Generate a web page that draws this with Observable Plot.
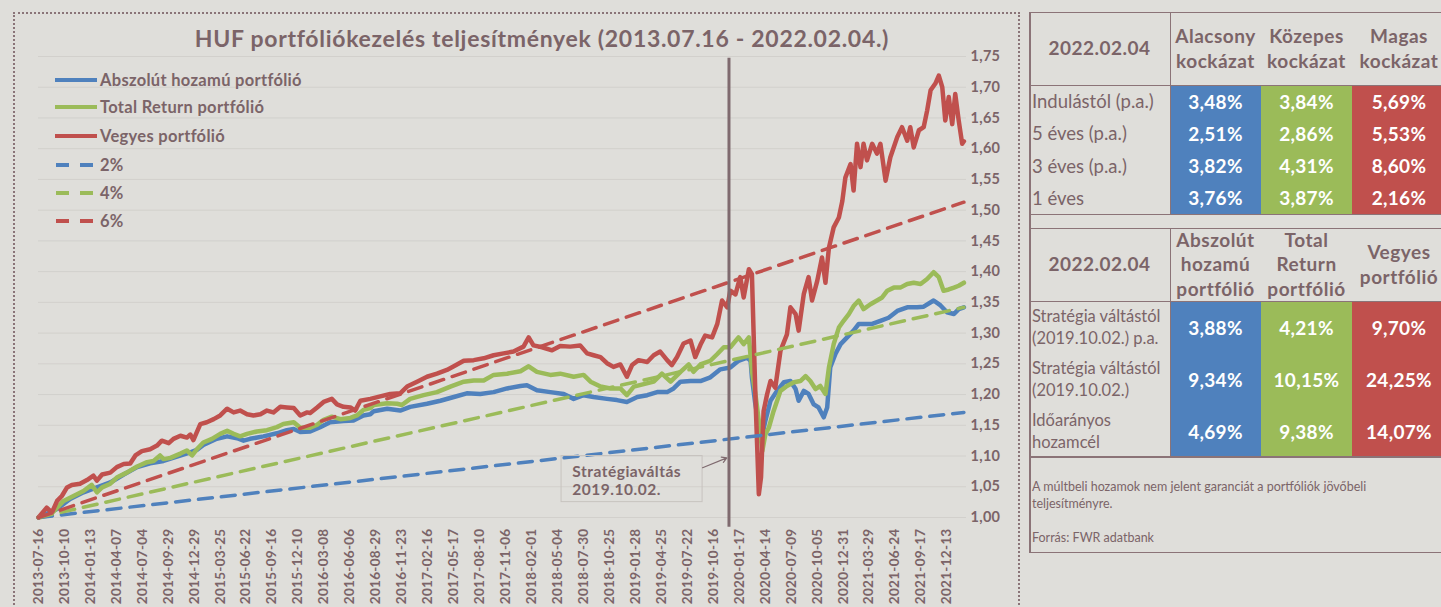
<!DOCTYPE html>
<html><head><meta charset="utf-8">
<script src="https://cdn.jsdelivr.net/npm/d3@7"></script>
<script src="https://cdn.jsdelivr.net/npm/@observablehq/plot@0.6"></script>
<style>
html,body{margin:0;padding:0;background:#dfdeda;width:1441px;height:607px;overflow:hidden;font-family:Lato,"Open Sans",sans-serif;color:#7b6468;}
#frame{position:absolute;left:13px;top:12px;width:1003px;height:640px;border:2px dotted #8a7478;}
#chart{position:absolute;left:0;top:0;}
#chart svg [aria-label="y-axis tick label"] text{font-weight:700;font-size:14.5px;letter-spacing:0.3px;}
#chart svg [aria-label="x-axis tick label"] text{font-weight:700;font-size:13.5px;letter-spacing:0.3px;}
#chart svg [aria-label="text"] text{letter-spacing:0.5px;}
#title{position:absolute;left:0;width:1084px;top:23px;text-align:center;font-weight:700;font-size:23px;letter-spacing:0.7px;line-height:30px;}
.leg{position:absolute;left:55px;height:20px;font-weight:700;font-size:16.5px;letter-spacing:0.3px;line-height:20px;display:flex;align-items:center;}
.leg svg{margin-right:3px;}
.cell{position:absolute;display:flex;align-items:center;justify-content:center;text-align:center;white-space:pre-line;box-sizing:border-box;}
.hdr{font-weight:700;font-size:19px;letter-spacing:0.5px;line-height:24.5px;}
.val{font-weight:700;font-size:19px;letter-spacing:0.3px;color:#fff;}
.lab{justify-content:flex-start;text-align:left;padding-left:3px;font-size:18.5px;}
.lab2{justify-content:flex-start;text-align:left;padding-left:3px;font-size:16.5px;line-height:22px;}
.box{position:absolute;border:1.5px solid #8b7377;box-sizing:border-box;}
.ln{position:absolute;background:#8b7377;}
#foot{position:absolute;left:1032px;top:478px;font-size:12.5px;line-height:17px;}
</style></head>
<body>
<div id="frame"></div>
<div id="chart"></div>
<div id="title">HUF portfóliókezelés teljesítmények (2013.07.16 - 2022.02.04.)</div>
<div id="legend"></div>
<div id="tables"></div>
<script>
// ---- x-axis tick labels (every 60 trading days) ----
const tickDates = ["2013-07-16","2013-10-10","2014-01-13","2014-04-07","2014-07-04","2014-09-29","2014-12-29","2015-03-25","2015-06-22","2015-09-16","2015-12-10","2016-03-08","2016-06-06","2016-08-29","2016-11-23","2017-02-16","2017-05-17","2017-08-10","2017-11-06","2018-02-01","2018-05-04","2018-07-30","2018-10-25","2019-01-28","2019-04-25","2019-07-22","2019-10-16","2020-01-17","2020-04-14","2020-07-09","2020-10-05","2020-12-31","2021-03-29","2021-06-24","2021-09-17","2021-12-13"];
const yTicks = [1.00,1.05,1.10,1.15,1.20,1.25,1.30,1.35,1.40,1.45,1.50,1.55,1.60,1.65,1.70,1.75];

// ---- series (trading-day index, value) ----
const blueIdx = [0,43,73,104,135,166,197,228,258,289,320,351,366,381,412,436,459,474,489,520,551,574,590,605,628,651,674,705,728,751,767,775,806,836,859,898,929,960,990,1021,1052,1083,1114,1129,1152,1183,1214,1237,1260,1283,1314,1337,1360,1384,1407,1430,1453,1468,1484,1507,1530,1553,1576,1599,1618,1638,1646,1649,1657,1665,1673,1680,1692,1707,1723,1738,1750,1757,1769,1780,1792,1803,1815,1823,1830,1842,1854,1869,1884,1896,1911,1927,1946,1965,1985,2008,2031,2046,2069,2085,2100,2116,2127,2139];
const blueVal = [1.000,1.014,1.030,1.041,1.049,1.057,1.070,1.082,1.088,1.092,1.099,1.106,1.110,1.118,1.128,1.132,1.129,1.125,1.128,1.132,1.137,1.142,1.144,1.139,1.140,1.147,1.155,1.157,1.158,1.166,1.168,1.173,1.177,1.174,1.180,1.185,1.190,1.196,1.202,1.201,1.204,1.210,1.214,1.215,1.207,1.204,1.201,1.193,1.199,1.196,1.193,1.191,1.188,1.196,1.199,1.204,1.204,1.210,1.221,1.222,1.222,1.228,1.241,1.244,1.255,1.260,1.255,1.228,1.184,1.152,1.135,1.157,1.190,1.206,1.220,1.222,1.209,1.190,1.206,1.201,1.184,1.179,1.163,1.179,1.244,1.266,1.282,1.293,1.304,1.315,1.315,1.315,1.320,1.325,1.336,1.342,1.342,1.343,1.353,1.345,1.334,1.331,1.339,1.342];

const greenIdx = [0,27,43,58,81,104,123,135,147,166,181,204,228,251,266,281,289,305,328,343,355,366,381,401,420,436,451,466,482,505,528,551,566,590,605,628,644,659,678,698,721,736,751,767,775,806,829,840,859,890,921,952,983,1006,1029,1052,1083,1114,1133,1152,1183,1206,1237,1260,1276,1299,1322,1345,1360,1376,1399,1422,1441,1461,1484,1503,1514,1530,1553,1569,1584,1599,1618,1630,1642,1649,1657,1665,1673,1680,1688,1699,1715,1730,1746,1761,1773,1784,1796,1807,1819,1827,1838,1850,1861,1873,1884,1896,1907,1923,1938,1950,1962,1977,1992,2008,2023,2039,2054,2069,2081,2092,2104,2116,2127,2139];
const greenVal = [1.000,1.004,1.016,1.027,1.035,1.043,1.053,1.041,1.049,1.055,1.065,1.073,1.083,1.090,1.092,1.101,1.095,1.097,1.104,1.109,1.101,1.111,1.122,1.128,1.136,1.141,1.136,1.132,1.136,1.140,1.142,1.147,1.152,1.155,1.146,1.146,1.151,1.159,1.164,1.160,1.162,1.166,1.175,1.178,1.183,1.186,1.185,1.183,1.193,1.199,1.204,1.213,1.221,1.223,1.223,1.232,1.234,1.238,1.246,1.237,1.232,1.234,1.229,1.232,1.221,1.213,1.210,1.210,1.199,1.213,1.217,1.221,1.234,1.221,1.237,1.249,1.237,1.249,1.255,1.266,1.277,1.277,1.293,1.282,1.293,1.239,1.201,1.157,1.108,1.135,1.146,1.173,1.206,1.214,1.220,1.222,1.230,1.222,1.209,1.214,1.201,1.244,1.282,1.309,1.320,1.331,1.344,1.353,1.339,1.347,1.353,1.358,1.369,1.374,1.374,1.380,1.382,1.380,1.388,1.399,1.391,1.369,1.371,1.374,1.377,1.382];

const redIdx = [0,19,31,43,54,66,77,96,112,127,135,147,166,181,197,212,224,239,258,274,285,301,312,328,343,351,358,374,389,405,420,436,451,466,482,497,513,528,543,559,574,590,605,621,628,644,659,678,690,705,721,732,744,767,790,813,836,852,875,898,921,944,960,983,1006,1029,1052,1075,1098,1121,1133,1144,1164,1187,1206,1229,1252,1268,1283,1299,1314,1329,1345,1360,1372,1387,1407,1422,1437,1453,1464,1476,1491,1507,1518,1530,1541,1557,1569,1580,1592,1599,1611,1622,1630,1642,1649,1657,1661,1665,1670,1676,1684,1692,1703,1715,1730,1738,1750,1757,1769,1780,1788,1800,1811,1819,1827,1838,1850,1858,1865,1877,1884,1892,1900,1907,1915,1927,1938,1946,1958,1969,1985,1996,2008,2015,2023,2035,2046,2054,2062,2073,2081,2089,2096,2104,2112,2119,2127,2135,2139];
const redVal = [1.000,1.016,1.008,1.027,1.035,1.049,1.053,1.055,1.061,1.068,1.060,1.070,1.073,1.082,1.087,1.088,1.101,1.108,1.111,1.117,1.125,1.121,1.128,1.133,1.130,1.135,1.126,1.152,1.155,1.160,1.166,1.177,1.171,1.174,1.168,1.166,1.168,1.174,1.171,1.180,1.179,1.178,1.166,1.171,1.170,1.179,1.188,1.193,1.184,1.180,1.179,1.174,1.190,1.193,1.197,1.201,1.202,1.213,1.221,1.229,1.234,1.240,1.246,1.255,1.256,1.259,1.264,1.267,1.270,1.278,1.293,1.280,1.277,1.272,1.279,1.278,1.280,1.267,1.264,1.261,1.251,1.245,1.249,1.229,1.248,1.256,1.253,1.264,1.270,1.256,1.248,1.261,1.283,1.288,1.261,1.281,1.296,1.293,1.315,1.353,1.342,1.369,1.363,1.391,1.358,1.404,1.396,1.200,1.119,1.038,1.065,1.173,1.200,1.222,1.211,1.271,1.298,1.342,1.331,1.304,1.364,1.391,1.353,1.385,1.423,1.382,1.439,1.472,1.488,1.515,1.553,1.575,1.532,1.608,1.570,1.608,1.581,1.608,1.592,1.608,1.548,1.586,1.619,1.635,1.613,1.635,1.602,1.630,1.635,1.662,1.695,1.706,1.719,1.700,1.646,1.684,1.640,1.689,1.646,1.608,1.612];

// target (simple-interest) lines: start and end values
const targetIdx = [0, 2139];
const target2 = [1.000, 1.171];
const target4 = [1.000, 1.342];
const target6 = [1.000, 1.513];

// strategy switch marker & annotation
const switchIdx = 1596;
const annot = {x1: 1209, x2: 1535, y1: 1.025, y2: 1.100, tx: 1234, ty: 1.060, text: "Stratégiaváltás\n2019.10.02.", ax: 1535, ay: 1.081, bx: 1591, by: 1.097};

const C = {blue:"#4f81bd", green:"#9bbb59", red:"#c0504d", text:"#7b6468", rule:"#7f6a6f"};

const solid = [
  {name:"Abszolút hozamú portfólió", idx: blueIdx, val: blueVal, color: C.blue},
  {name:"Total Return portfólió", idx: greenIdx, val: greenVal, color: C.green},
  {name:"Vegyes portfólió", idx: redIdx, val: redVal, color: C.red}
];
const dashed = [
  {name:"2%", idx: targetIdx, val: target2, color: C.blue},
  {name:"4%", idx: targetIdx, val: target4, color: C.green},
  {name:"6%", idx: targetIdx, val: target6, color: C.red}
];
const toRows = s => s.idx.map((x,k) => ({x, y: s.val[k], s: s.name, c: s.color}));
const solidRows = solid.flatMap(toRows);
const dashRows = dashed.flatMap(toRows);

const chart = Plot.plot({
  width: 1020, height: 607,
  marginLeft: 38, marginRight: 54, marginTop: 56, marginBottom: 90,
  style: {fontFamily: "Lato, 'Open Sans', sans-serif", color: C.text, background: "transparent", overflow: "visible"},
  x: {domain: [0, 2145]},
  y: {domain: [1, 1.75]},
  marks: [
    Plot.gridY(yTicks, {stroke: "#d2d0cc", strokeOpacity: 1, strokeWidth: 1}),
    Plot.line(solidRows, {x: "x", y: "y", z: "s", stroke: "c", strokeWidth: 4.5, strokeLinejoin: "round"}),
    Plot.line(dashRows, {x: "x", y: "y", z: "s", stroke: "c", strokeWidth: 3.5, strokeDasharray: "14,9"}),
    Plot.ruleX([switchIdx], {y1: 0.984, y2: 1.747, stroke: C.rule, strokeWidth: 3}),
    Plot.rect([annot], {x1: "x1", x2: "x2", y1: "y1", y2: "y2", fill: "none", stroke: "#c7c3bf", strokeWidth: 1}),
    Plot.text([annot], {x: "tx", y: "ty", text: "text", textAnchor: "start", fontWeight: "bold", fontSize: 15.5, lineHeight: 1.17, fill: C.text}),
    Plot.arrow([annot], {x1: "ax", y1: "ay", x2: "bx", y2: "by", stroke: C.rule, strokeWidth: 1.2, headLength: 7}),
    Plot.axisY({anchor: "right", ticks: yTicks, tickFormat: d => d.toFixed(2).replace(".", ","), tickSize: 0, tickPadding: 4, label: null}),
    Plot.axisX({ticks: tickDates.map((d,i) => i*60), tickFormat: i => tickDates[Math.round(i/60)], tickRotate: -90, tickSize: 0, tickPadding: 11, label: null})
  ]
});
document.getElementById("chart").appendChild(chart);

// ---- legend ----
const legend = document.getElementById("legend");
const legY = [80, 107, 136, 165, 193, 221];
[...solid, ...dashed].forEach((s, k) => {
  const d = document.createElement("div");
  d.className = "leg";
  d.style.top = (legY[k] - 10) + "px";
  const isDash = k >= 3;
  d.innerHTML = `<svg width="42" height="8"><line x1="${isDash?1:0}" y1="4" x2="${isDash?38:42}" y2="4" stroke="${s.color}" stroke-width="4" ${isDash?'stroke-dasharray="13,11"':''} stroke-linecap="${isDash?'butt':'round'}"/></svg><span>${s.name}</span>`;
  legend.appendChild(d);
});

// ---- tables ----
const t1Date = "2022.02.04";
const t1Cols = ["Alacsony\nkockázat", "Közepes\nkockázat", "Magas\nkockázat"];
const t1Rows = ["Indulástól (p.a.)", "5 éves (p.a.)", "3 éves (p.a.)", "1 éves"];
const t1Low = ["3,48%", "2,51%", "3,82%", "3,76%"];
const t1Mid = ["3,84%", "2,86%", "4,31%", "3,87%"];
const t1High = ["5,69%", "5,53%", "8,60%", "2,16%"];
const t2Date = "2022.02.04";
const t2Cols = ["Abszolút\nhozamú\nportfólió", "Total\nReturn\nportfólió", "Vegyes\nportfólió"];
const t2Rows = ["Stratégia váltástól\n(2019.10.02.) p.a.", "Stratégia váltástól\n(2019.10.02.)", "Időarányos\nhozamcél"];
const t2Abs = ["3,88%", "9,34%", "4,69%"];
const t2TR = ["4,21%", "10,15%", "9,38%"];
const t2Veg = ["9,70%", "24,25%", "14,07%"];
const footText = "A múltbeli hozamok nem jelent garanciát a portfóliók jövőbeli\nteljesítményre.\n\nForrás: FWR adatbank";

const T = document.getElementById("tables");
const colX = [1029, 1170, 1261, 1352, 1446];
const fills = [C.blue, C.green, C.red];
function cell(x, y, w, h, cls, txt, bg) {
  const d = document.createElement("div");
  d.className = "cell " + cls;
  Object.assign(d.style, {left: x+"px", top: y+"px", width: w+"px", height: h+"px"});
  if (bg) d.style.background = bg;
  d.textContent = txt;
  T.appendChild(d);
}
function el(cls, x, y, w, h) {
  const d = document.createElement("div");
  d.className = cls;
  Object.assign(d.style, {left: x+"px", top: y+"px", width: w+"px", height: h+"px"});
  T.appendChild(d);
}
function table(top, hdrH, rowH, date, cols, rows, vals, labCls) {
  const n = rows.length;
  cell(colX[0], top, colX[1]-colX[0], hdrH, "hdr", date);
  cols.forEach((c, j) => cell(colX[j+1], top, colX[j+2]-colX[j+1], hdrH, "hdr", c));
  rows.forEach((r, i) => {
    const y = top + hdrH + i*rowH;
    cell(colX[0], y, colX[1]-colX[0], rowH, labCls, r);
    vals.forEach((v, j) => cell(colX[j+1], y, colX[j+2]-colX[j+1], rowH, "val", v[i], fills[j]));
  });
  const H = hdrH + n*rowH;
  el("box", colX[0], top, 1446-colX[0], H+1);
  el("ln", colX[1]-0.5, top, 1.5, H);
  el("ln", colX[0], top+hdrH-0.5, 1446-colX[0], 1.5);
}
table(12, 73, 32.25, t1Date, t1Cols, t1Rows, [t1Low, t1Mid, t1High], "lab");
table(228, 73, 52, t2Date, t2Cols, t2Rows, [t2Abs, t2TR, t2Veg], "lab2");
el("box", colX[0], 456, 1446-colX[0], 97);
el("ln", colX[0], 12, 1.5, 540);
const f = document.createElement("div");
f.id = "foot"; f.style.whiteSpace = "pre-line"; f.textContent = footText;
T.appendChild(f);
</script>
</body></html>
